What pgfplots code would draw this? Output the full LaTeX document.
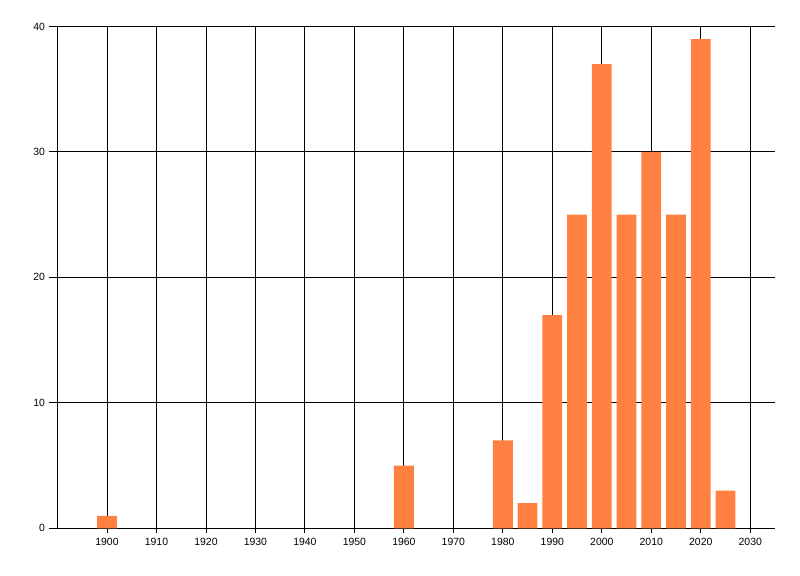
\documentclass[border=0pt]{standalone}
\usepackage{pgfplots}
\pgfplotsset{compat=1.18}
\usepackage{fontspec}
\setmainfont{Liberation Sans}
\definecolor{barc}{RGB}{255,128,64}
\begin{document}
\begin{tikzpicture}[x=1bp,y=1bp]
\path[use as bounding box, fill=white] (0,0) rectangle (800,576);
\begin{axis}[
 at={(57.5bp,47.7bp)}, anchor=south west,
 scale only axis, width=717.5bp, height=501.8bp,
 xmin=1890, xmax=2035, ymin=0, ymax=40,
 axis x line=bottom, axis y line=left,
 axis line style={-, black, line width=0.9bp},
 xtick={1900,1910,...,2030}, ytick={0,10,20,30,40},
 grid=major, major grid style={black, line width=0.9bp},
 tick style={black, line width=0.9bp},
 tick align=outside,
 major tick length=9bp,
 xtick style={/pgfplots/major tick length=4.5bp},
 /pgf/number format/assume math mode=true,
 /pgf/number format/1000 sep={},
 tick label style={font=\fontsize{10.5}{12}\selectfont, text=black},
 xticklabel style={yshift=2.5bp},
]
\addplot[ybar, bar width=4, fill=barc, draw=none] coordinates {
(1900,1) (1960,5) (1980,7) (1985,2) (1990,17) (1995,25) (2000,37)
(2005,25) (2010,30) (2015,25) (2020,39) (2025,3)};
\end{axis}
\end{tikzpicture}
\end{document}
